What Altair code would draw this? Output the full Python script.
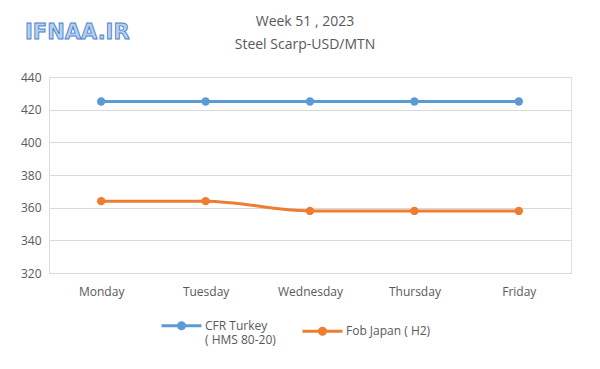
import altair as alt
import pandas as pd

days = ["Monday", "Tuesday", "Wednesday", "Thursday", "Friday"]
series_names = ["CFR Turkey ( HMS 80-20)", "Fob Japan ( H2)"]
cfr_turkey = [425, 425, 425, 425, 425]
fob_japan = [364, 364, 358, 358, 358]
colors = ["#5B9BD5", "#ED7D31"]
y_ticks = [320, 340, 360, 380, 400, 420, 440]
title_lines = ["Week 51  , 2023", "Steel Scarp-USD/MTN"]
watermark_text = ["IFNAA.IR"]

rows = []
for d, v in zip(days, cfr_turkey):
    rows.append({"day": d, "series": series_names[0], "value": v})
for d, v in zip(days, fob_japan):
    rows.append({"day": d, "series": series_names[1], "value": v})
df = pd.DataFrame(rows)

FONT = "Open Sans"
GREY = "#595959"

legend = alt.Legend(
    title=None,
    orient="none",
    legendX=111,
    legendY=227,
    direction="horizontal",
    symbolType="M-1,0L1,0M0.15,0A0.15,0.15 0 1,1 -0.15,0A0.15,0.15 0 1,1 0.15,0",
    symbolSize=1600,
    symbolStrokeWidth=3,
    labelFont=FONT,
    labelFontSize=12,
    labelColor=GREY,
    labelOffset=2,
    columnPadding=20,
    labelExpr="datum.label == 'CFR Turkey ( HMS 80-20)' ? ['CFR Turkey', ' ( HMS 80-20)'] : datum.label",
)

color = alt.Color(
    "series:N",
    scale=alt.Scale(domain=series_names, range=colors),
    legend=legend,
)

x = alt.X(
    "day:N",
    sort=days,
    scale=alt.Scale(type="point", padding=0.5),
    axis=alt.Axis(
        title=None, labelAngle=0, ticks=False, domain=True, domainColor="#D9D9D9",
        labelFont=FONT, labelFontSize=12, labelColor=GREY, labelPadding=13,
    ),
)
y = alt.Y(
    "value:Q",
    scale=alt.Scale(domain=[320, 440], nice=False, zero=False),
    axis=alt.Axis(
        title=None, values=y_ticks, ticks=False, domain=False, gridColor="#D9D9D9",
        labelFont=FONT, labelFontSize=12, labelColor=GREY, labelPadding=8,
    ),
)

lines = alt.Chart(df).mark_line(strokeWidth=3, interpolate="monotone").encode(x=x, y=y, color=color)
points = alt.Chart(df).mark_circle(size=70, opacity=1).encode(
    x=x, y=y,
    color=alt.Color("series:N", scale=alt.Scale(domain=series_names, range=colors), legend=None),
)

watermark = alt.Chart(pd.DataFrame({"t": watermark_text})).mark_text(
    font="DejaVu Sans", fontSize=21, fontWeight="bold", color="#B4D0F2", stroke="#4F81C8",
    strokeWidth=0.9, align="left", baseline="middle",
).encode(text="t:N", x=alt.value(-24), y=alt.value(-44))

title_df = pd.DataFrame({"t": title_lines, "i": [0, 1]})
title1 = alt.Chart(pd.DataFrame({"t": [title_lines[0]]})).mark_text(
    font=FONT, fontSize=14, color=GREY, align="center", baseline="middle",
).encode(text="t:N", x=alt.value(256), y=alt.value(-55))
title2 = alt.Chart(pd.DataFrame({"t": [title_lines[1]]})).mark_text(
    font=FONT, fontSize=14, color=GREY, align="center", baseline="middle",
).encode(text="t:N", x=alt.value(256), y=alt.value(-32))

chart = alt.layer(lines, points, watermark, title1, title2).properties(
    width=522,
    height=196,
    autosize=alt.AutoSizeParams(type="none"),
    padding={"left": 41, "top": 69, "right": 19, "bottom": 88},
).configure_view(stroke=None).configure(background="white")

chart.save("out.html", embed_options={"renderer": "svg", "actions": False})
